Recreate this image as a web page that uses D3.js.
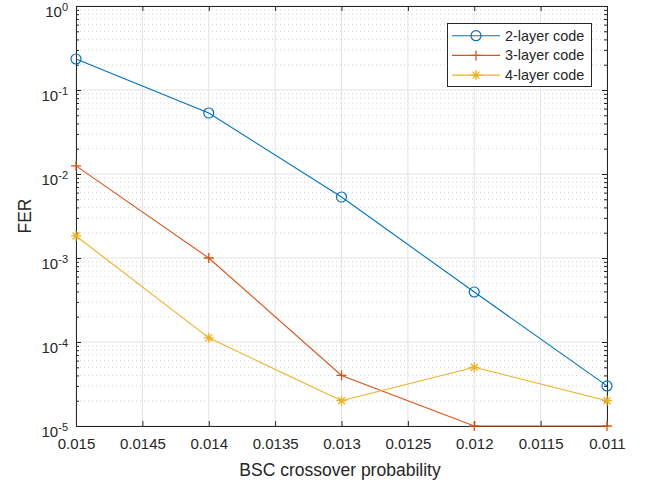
<!DOCTYPE html>
<html><head><meta charset="utf-8">
<script src="https://cdn.jsdelivr.net/npm/d3@7"></script>
<style>body{margin:0;background:#fff}svg{display:block}text{font-family:"Liberation Sans",Arial,sans-serif;fill:#262626}</style>
</head><body>
<script>
const xValues = [0.015, 0.014, 0.013, 0.012, 0.011];
const fer2 = [0.234, 0.0532, 0.00532, 0.000394, 0.00003];
const fer3 = [0.0125, 0.001, 0.00004, 0.00001, 0.00001];
const fer4 = [0.00183, 0.000112, 0.00002, 0.00005, 0.00002];
const seriesNames = ["2-layer code", "3-layer code", "4-layer code"];
const xTicks = [0.015, 0.0145, 0.014, 0.0135, 0.013, 0.0125, 0.012, 0.0115, 0.011];
const yTickExps = [-5, -4, -3, -2, -1, 0];

const W = 648, H = 482;
const L = 76, R = 607, T = 6, B = 426;
const colors = ["#0072BD", "#D95319", "#EDB120"];
const series = [fer2, fer3, fer4];

const svg = d3.select("body").append("svg").attr("width", W).attr("height", H);
const x = d3.scaleLinear().domain([0.015, 0.011]).range([L, R]);
const y = d3.scaleLog().domain([1e-5, 1]).range([B, T]);

// minor grid (dotted)
const minor = [];
for (let e = -5; e < 0; e++) for (let m = 2; m <= 9; m++) minor.push(m * Math.pow(10, e));
svg.append("g").selectAll("line").data(minor).join("line")
  .attr("x1", L).attr("x2", R).attr("y1", d => y(d)).attr("y2", d => y(d))
  .attr("stroke", "#c8c8c8").attr("stroke-width", 0.8).attr("stroke-dasharray", "1,3");
// major grid
svg.append("g").selectAll("line").data(xTicks).join("line")
  .attr("x1", d => x(d)).attr("x2", d => x(d)).attr("y1", T).attr("y2", B)
  .attr("stroke", "#e3e3e3").attr("stroke-width", 1);
svg.append("g").selectAll("line").data(yTickExps).join("line")
  .attr("x1", L).attr("x2", R).attr("y1", d => y(Math.pow(10, d))).attr("y2", d => y(Math.pow(10, d)))
  .attr("stroke", "#e3e3e3").attr("stroke-width", 1);

// axes
const fmt = d => String(+d.toFixed(5));
const axB = svg.append("g").attr("transform", `translate(0,${B})`)
  .call(d3.axisBottom(x).tickValues(xTicks).tickFormat(fmt).tickSizeInner(-5).tickSizeOuter(0).tickPadding(12));
svg.append("g").attr("transform", `translate(0,${T})`)
  .call(d3.axisTop(x).tickValues(xTicks).tickFormat("").tickSizeInner(-5).tickSizeOuter(0));
svg.append("g").attr("transform", `translate(${L},0)`)
  .call(d3.axisLeft(y).tickValues(yTickExps.map(e => Math.pow(10, e))).tickFormat("").tickSizeInner(-5).tickSizeOuter(0));
svg.append("g").attr("transform", `translate(${R},0)`)
  .call(d3.axisRight(y).tickValues(yTickExps.map(e => Math.pow(10, e))).tickFormat("").tickSizeInner(-5).tickSizeOuter(0));
svg.append("g").attr("transform", `translate(${L},0)`)
  .call(d3.axisLeft(y).tickValues(minor).tickFormat("").tickSizeInner(-3).tickSizeOuter(0))
  .select(".domain").remove();
svg.append("g").attr("transform", `translate(${R},0)`)
  .call(d3.axisRight(y).tickValues(minor).tickFormat("").tickSizeInner(-3).tickSizeOuter(0))
  .select(".domain").remove();
svg.selectAll(".domain, .tick line").attr("stroke", "#262626");
axB.selectAll("text").attr("font-size", 15).style("fill", "#262626")
  .style("font-family", '"Liberation Sans",Arial,sans-serif');

// y tick labels 10^e
const yl = svg.append("g");
yTickExps.forEach(e => {
  const t = yl.append("text").attr("x", L - 8).attr("y", y(Math.pow(10, e)) + 11)
    .attr("text-anchor", "end").attr("font-size", 15);
  t.append("tspan").text("10");
  t.append("tspan").attr("dy", -6.5).attr("font-size", 11).text(e);
});

// labels
svg.append("text").attr("x", 340).attr("y", 476).attr("text-anchor", "middle")
  .attr("font-size", 17.5).text("BSC crossover probability");
svg.append("text").attr("transform", `translate(31,${(T + B) / 2}) rotate(-90)`)
  .attr("text-anchor", "middle").attr("font-size", 17.5).text("FER");

// series
const line = d3.line().x((d, i) => x(xValues[i])).y(d => y(d));

function marker(g, k, cx, cy, c) {
  if (k === 0) g.append("circle").attr("cx", cx).attr("cy", cy).attr("r", 5)
    .attr("fill", "none").attr("stroke", c).attr("stroke-width", 1.2);
  else if (k === 1) {
    g.append("path").attr("d", `M${cx - 5},${cy}H${cx + 5}M${cx},${cy - 5}V${cy + 5}`)
      .attr("stroke", c).attr("stroke-width", 1.3);
  } else {
    let p = `M${cx - 5},${cy}H${cx + 5}M${cx},${cy - 5}V${cy + 5}`;
    p += `M${cx - 3.5},${cy - 3.5}L${cx + 3.5},${cy + 3.5}M${cx - 3.5},${cy + 3.5}L${cx + 3.5},${cy - 3.5}`;
    g.append("path").attr("d", p).attr("stroke", c).attr("stroke-width", 1.3);
  }
}
series.forEach((s, k) => {
  const g = svg.append("g");
  g.append("path").datum(s).attr("d", line).attr("fill", "none")
    .attr("stroke", colors[k]).attr("stroke-width", 1.1);
  s.forEach((v, i) => marker(g, k, x(xValues[i]), y(v), colors[k]));
});

// legend
const lg = svg.append("g");
lg.append("rect").attr("x", 447.5).attr("y", 23.5).attr("width", 144).attr("height", 63)
  .attr("fill", "#fff").attr("stroke", "#262626").attr("stroke-width", 1);
seriesNames.forEach((n, k) => {
  const yy = 35.7 + k * 19.7;
  lg.append("line").attr("x1", 452).attr("x2", 500).attr("y1", yy).attr("y2", yy)
    .attr("stroke", colors[k]).attr("stroke-width", 1.1);
  marker(lg, k, 476, yy, colors[k]);
  lg.append("text").attr("x", 505).attr("y", yy + 5).attr("font-size", 14.4).text(n);
});
</script>
</body></html>
